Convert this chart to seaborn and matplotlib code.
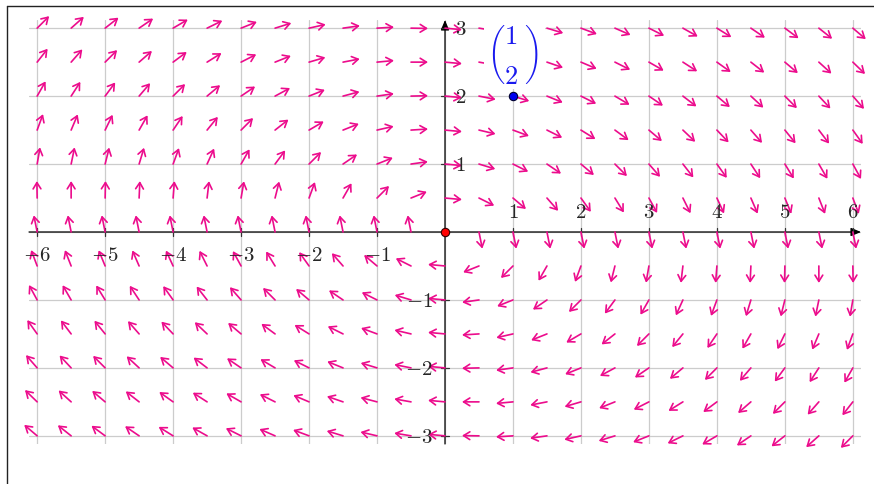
import numpy as np
import matplotlib
matplotlib.use("Agg")
import matplotlib.pyplot as plt
import seaborn as sns
from matplotlib.patches import Rectangle
from matplotlib.lines import Line2D

# ---- data ----
field_matrix = [[0.2, 2.2], [-1.0, -0.2]]   # F(x, y) = M @ (x, y)
grid_x = [-6.0, -5.5, -5.0, -4.5, -4.0, -3.5, -3.0, -2.5, -2.0, -1.5, -1.0, -0.5,
          0.0, 0.5, 1.0, 1.5, 2.0, 2.5, 3.0, 3.5, 4.0, 4.5, 5.0, 5.5, 6.0]
grid_y = [-3.0, -2.5, -2.0, -1.5, -1.0, -0.5, 0.0, 0.5, 1.0, 1.5, 2.0, 2.5, 3.0]
x_ticks = [-6, -5, -4, -3, -2, -1, 1, 2, 3, 4, 5, 6]
y_ticks = [-3, -2, -1, 1, 2, 3]
origin_pt = [0.0, 0.0]
vector_pt = [1.0, 2.0]
vector_entries = ["1", "2"]

sns.set_style("white")
plt.rcParams["mathtext.fontset"] = "cm"
plt.rcParams["font.family"] = ["DejaVu Sans"]

PINK = "#EC0C8C"
BLUE = "#1a1aee"
fig = plt.figure(figsize=(8.74, 4.85), dpi=100)
ax = fig.add_axes([29 / 874, 40 / 485, 832 / 874, 424 / 485])
XL, YL = 6.12, 3.12
ax.set_xlim(-XL, XL)
ax.set_ylim(-YL, YL)
ax.set_aspect("auto")
for s in ax.spines.values():
    s.set_visible(False)
ax.set_xticks(range(-6, 7))
ax.set_yticks(range(-3, 4))
ax.set_xticklabels([])
ax.set_yticklabels([])
ax.tick_params(length=0)
ax.grid(True, color="#cccccc", lw=0.9, zorder=0)
ax.set_axisbelow(True)

# axes with arrow heads
ax.annotate("", xy=(XL, 0), xytext=(-XL, 0),
            arrowprops=dict(arrowstyle="-|>,head_length=0.6,head_width=0.25", color="black",
                            lw=0.9, shrinkA=0, shrinkB=0, mutation_scale=10), zorder=2)
ax.annotate("", xy=(0, YL), xytext=(0, -YL),
            arrowprops=dict(arrowstyle="-|>,head_length=0.6,head_width=0.25", color="black",
                            lw=0.9, shrinkA=0, shrinkB=0, mutation_scale=10), zorder=2)

# tick marks and labels
FS = 15
for t in x_ticks:
    ax.plot([t, t], [-0.06, 0.06], color="#333333", lw=0.9, zorder=2)
    if t < 0:
        ax.text(t, -0.33, r"$%d$" % t, ha="center", va="center", fontsize=FS, zorder=4)
    else:
        ax.text(t, 0.31, r"$%d$" % t, ha="center", va="center", fontsize=FS, zorder=4)
for t in y_ticks:
    ax.plot([-0.06, 0.06], [t, t], color="#333333", lw=0.9, zorder=2)
    if t < 0:
        ax.text(-0.18, t, r"$%d$" % t, ha="right", va="center", fontsize=FS, zorder=4)
    else:
        ax.text(0.14, t, r"$%d$" % t, ha="left", va="center", fontsize=FS, zorder=4)

# vector field
M = np.array(field_matrix)
L = 0.25
for gx in grid_x:
    for gy in grid_y:
        u, v = M @ np.array([gx, gy])
        n = np.hypot(u, v)
        if n == 0:
            continue
        ax.annotate("", xy=(gx + L * u / n, gy + L * v / n), xytext=(gx, gy),
                    arrowprops=dict(arrowstyle="->,head_length=0.45,head_width=0.28",
                                    color=PINK, lw=1.2, shrinkA=0, shrinkB=0,
                                    mutation_scale=10),
                    annotation_clip=False, zorder=3)

# points
sns.scatterplot(x=[origin_pt[0]], y=[origin_pt[1]], color="#ff0000", s=36,
                edgecolor="#300000", linewidth=0.8, zorder=6, ax=ax, legend=False)
sns.scatterplot(x=[vector_pt[0]], y=[vector_pt[1]], color="#0000ee", s=36,
                edgecolor="#000030", linewidth=0.8, zorder=6, ax=ax, legend=False)

# label of the vector (white box hiding arrows)
ax.add_patch(Rectangle((0.57, 2.10), 0.90, 1.08, facecolor="white", edgecolor="none",
                       zorder=4.5, clip_on=False))
a, b = vector_entries
label_tall = (r"$\genfrac{(}{)}{0}{0}{\genfrac{}{}{0}{0}{%s}{\ }}"
              r"{\genfrac{}{}{0}{0}{\ }{%s}}$" % (a, b))
label_plain = r"$\genfrac{(}{)}{0}{0}{%s}{%s}$" % (a, b)
lab = ax.text(vector_pt[0], 2.61, label_tall, color=BLUE, ha="center", va="center",
              fontsize=19, zorder=5)
try:
    fig.canvas.draw()
except Exception:
    lab.set_text(label_plain)
    lab.set_fontsize(23)

# outer frame (top and left edges)
fig.add_artist(Line2D([7 / 874, 7 / 874], [0, 1 - 7 / 485], color="#222222", lw=1.0))
fig.add_artist(Line2D([7 / 874, 1], [1 - 7 / 485, 1 - 7 / 485], color="#222222", lw=1.0))

fig.savefig("out.png", dpi=100)
